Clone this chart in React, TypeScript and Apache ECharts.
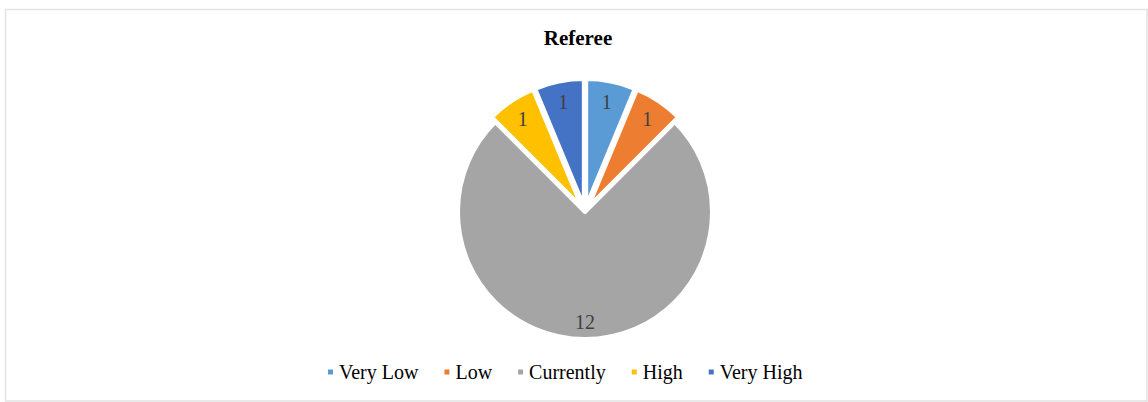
import React, { useEffect, useRef } from "react";
import * as echarts from "echarts";

const categories = ["Very Low", "Low", "Currently", "High", "Very High"];
const values = [1, 1, 12, 1, 1];
const colors = ["#5B9BD5", "#ED7D31", "#A5A5A5", "#FFC000", "#4472C4"];
const exploded = [true, true, false, true, true];
const titleText = "Referee";

const SERIF = "Liberation Serif";

export default function App() {
  const ref = useRef<HTMLDivElement>(null);
  useEffect(() => {
    if (!ref.current) return;
    const chart = echarts.init(ref.current, null, { renderer: "svg" });
    const baseData = categories.map((name, i) => ({
      name,
      value: values[i],
      selected: exploded[i],
      itemStyle: { color: colors[i] },
    }));
    const labelData = categories.map((name, i) => ({
      name,
      value: values[i],
      selected: exploded[i],
      label: exploded[i] ? {} : { offset: [0, 4] },
    }));
    chart.setOption({
      animation: false,
      backgroundColor: "#ffffff",
      textStyle: { fontFamily: SERIF },
      title: {
        text: titleText,
        left: 578,
        textAlign: "center",
        top: 27,
        padding: 0,
        textStyle: {
          fontFamily: SERIF,
          fontWeight: "bold",
          fontSize: 21,
          color: "#000000",
        },
      },
      legend: {
        data: categories,
        left: 321,
        top: 357,
        icon: "rect",
        itemWidth: 7,
        itemHeight: 7,
        itemGap: 24,
        textStyle: {
          fontFamily: SERIF,
          fontSize: 20,
          color: "#000000",
        },
        selectedMode: false,
      },
      graphic: [
        {
          type: "rect",
          shape: { x: 5.5, y: 9.5, width: 1141.5, height: 391.5 },
          style: { fill: "none", stroke: "#e2e2e2", lineWidth: 1.5 },
          silent: true,
        },
      ],
      series: [
        {
          type: "pie",
          center: [585, 212],
          radius: [0, 127],
          startAngle: 90,
          clockwise: true,
          selectedMode: "multiple",
          selectedOffset: 6,
          avoidLabelOverlap: false,
          label: { show: false },
          labelLine: { show: false },
          emphasis: { disabled: true },
          select: { disabled: false, itemStyle: { borderColor: "#ffffff", borderWidth: 4 } },
          itemStyle: { borderColor: "#ffffff", borderWidth: 4 },
          data: baseData,
        },
        {
          type: "pie",
          center: [585, 212],
          radius: [81, 125],
          startAngle: 90,
          clockwise: true,
          silent: true,
          selectedMode: "multiple",
          selectedOffset: 6,
          avoidLabelOverlap: false,
          itemStyle: { color: "rgba(0,0,0,0)", borderWidth: 0 },
          select: { itemStyle: { color: "rgba(0,0,0,0)" } },
          label: {
            show: true,
            position: "inside",
            formatter: "{c}",
            fontFamily: SERIF,
            fontSize: 20,
            color: "#404040",
          },
          labelLine: { show: false },
          emphasis: { disabled: true },
          data: labelData,
        },
      ],
    });
    return () => chart.dispose();
  }, []);
  return (
    <div
      ref={ref}
      style={{ position: "fixed", left: 0, top: 0, width: 1148, height: 402 }}
    />
  );
}
